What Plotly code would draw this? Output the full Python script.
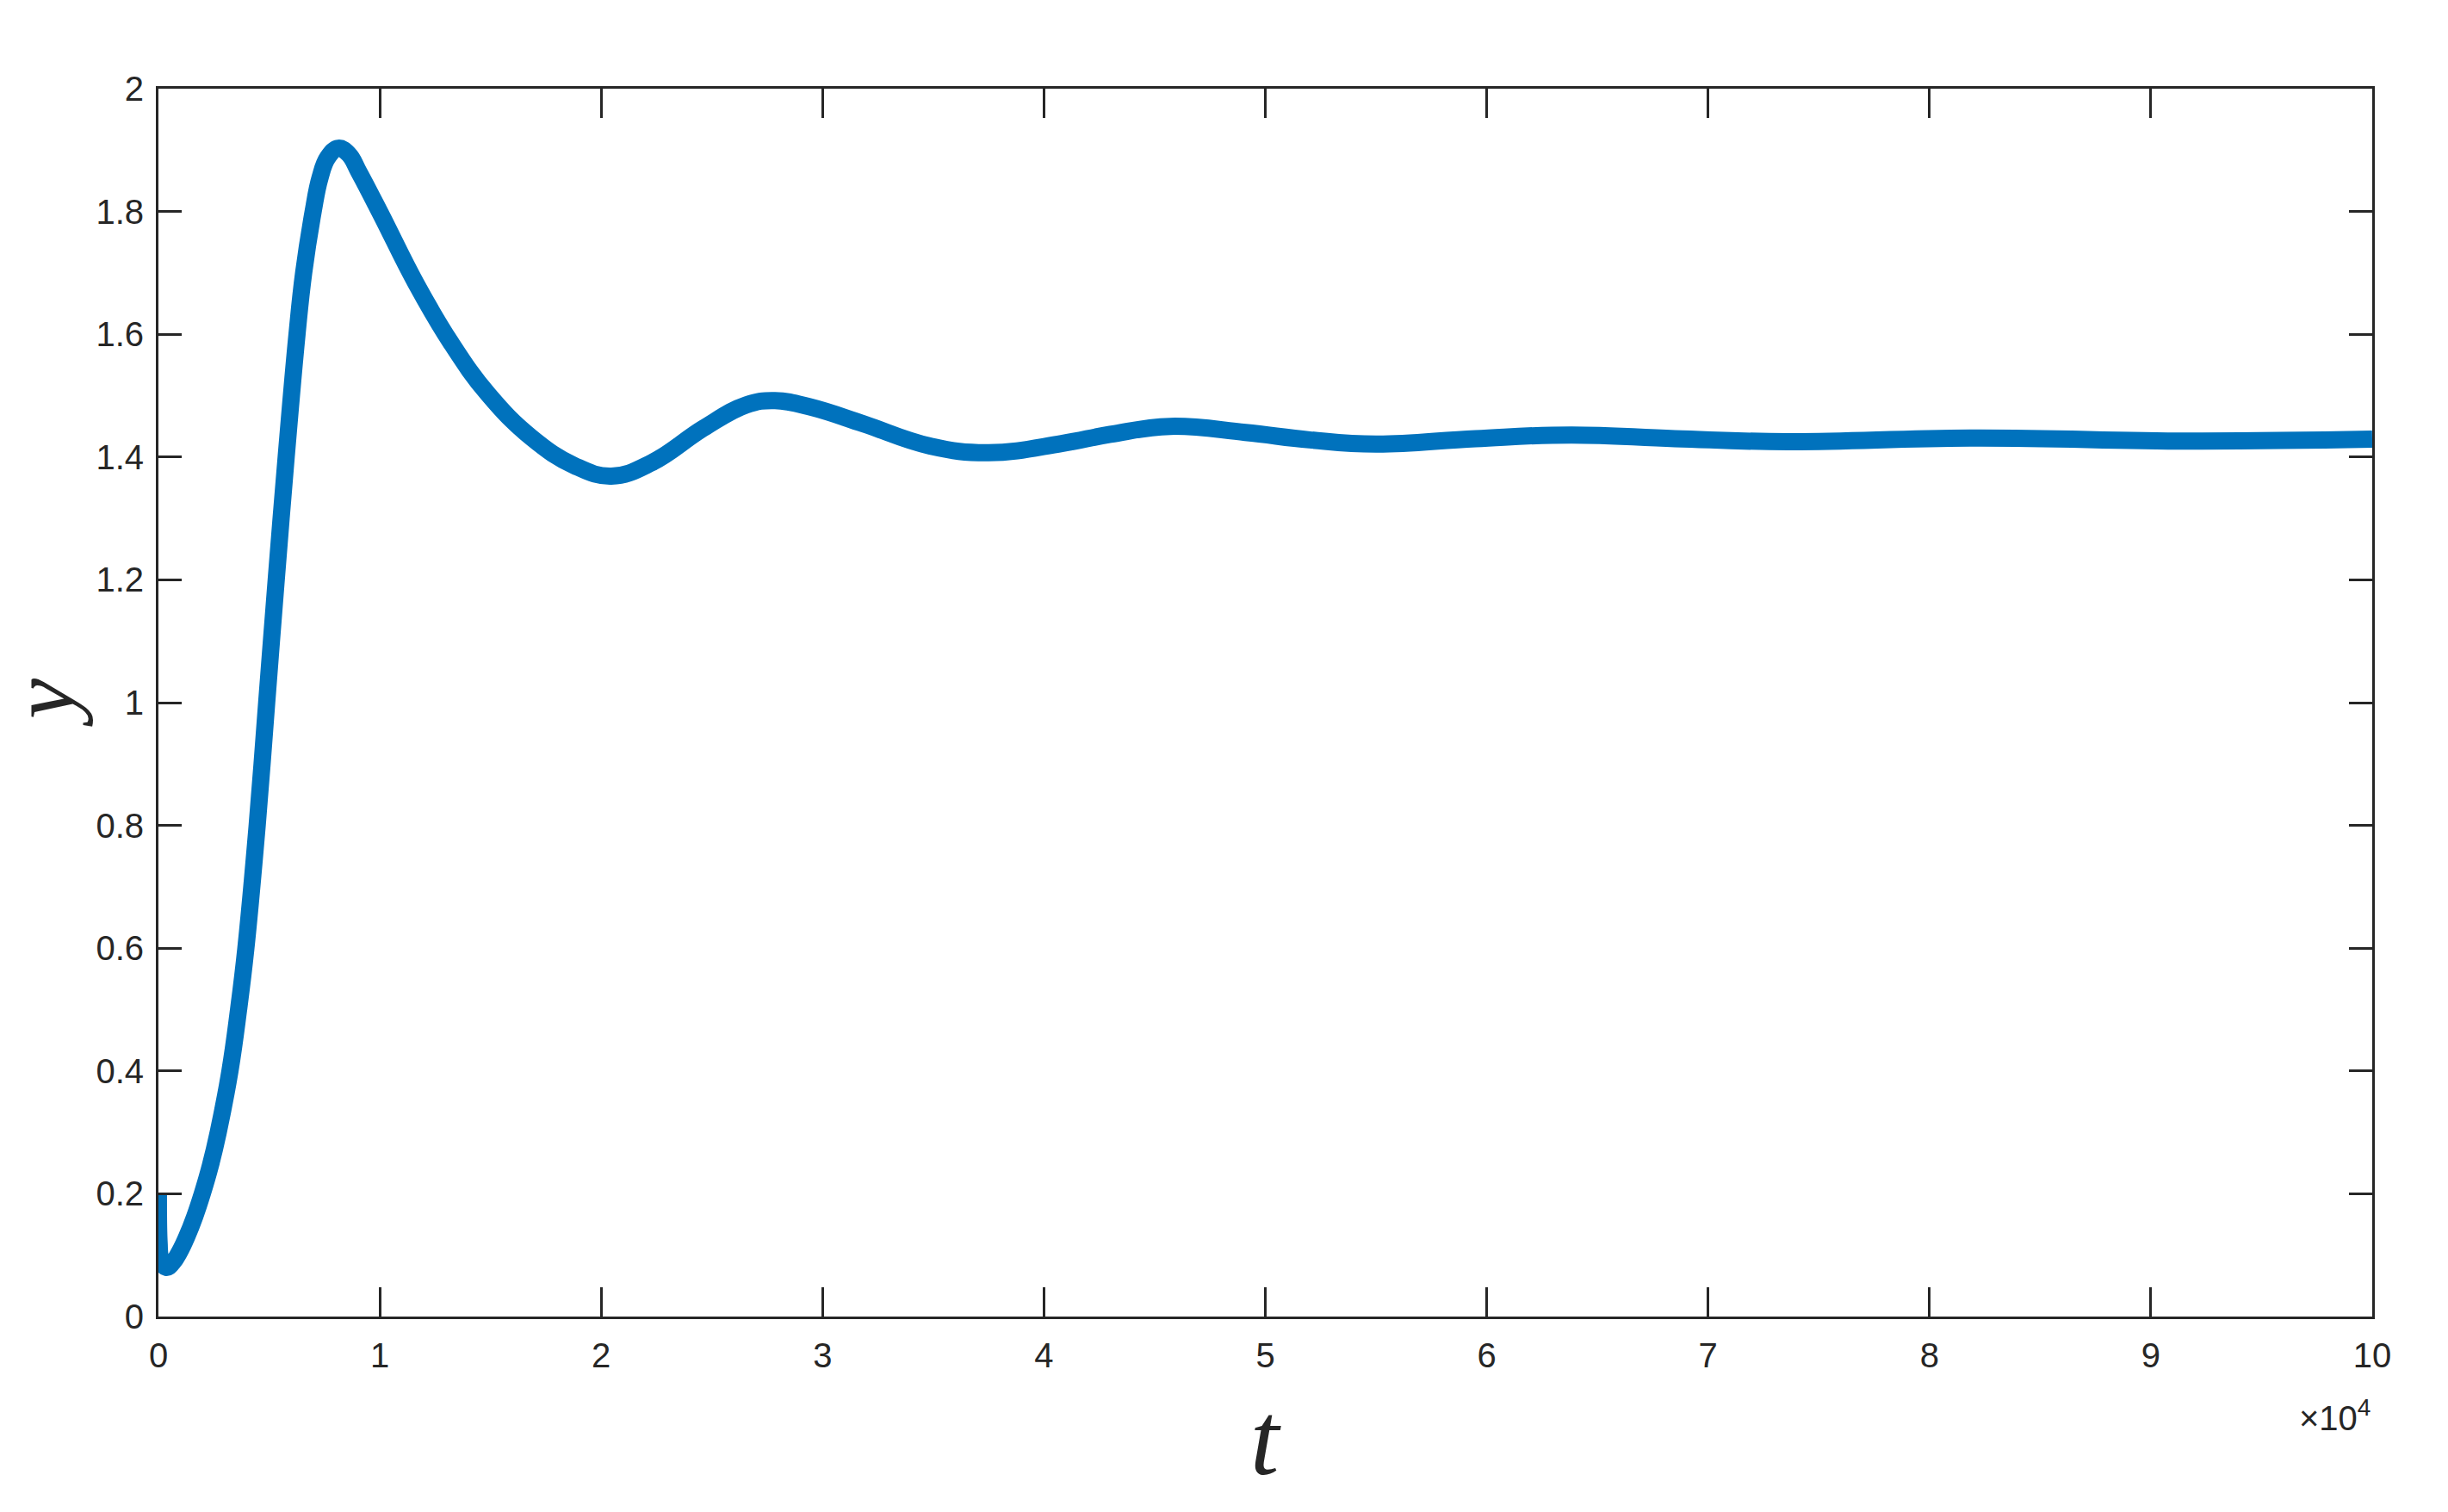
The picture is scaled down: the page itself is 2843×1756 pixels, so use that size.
import plotly.graph_objects as go

# response curve (t in samples, y dimensionless)
t_vals = [0, 30, 100, 350, 650, 950, 1280, 1640, 1980, 2340, 2700, 3230, 3620, 3950,
          4460, 4890, 5320, 5770, 6260, 6560, 6990, 7300, 7650, 8130, 8600, 9060,
          10070, 11630, 13180, 14900, 16840, 18790, 20460, 22290, 24620, 26560, 27850,
          29500, 31850, 34850, 37500, 40800, 43000, 45700, 49100, 52000, 55000, 59500,
          63800, 68500, 73600, 82000, 91800, 100000]
y_vals = [0.2, 0.12, 0.095, 0.08, 0.088, 0.105, 0.13, 0.163, 0.2, 0.245, 0.3, 0.4, 0.5,
          0.6, 0.8, 1.0, 1.2, 1.4, 1.6, 1.7, 1.8, 1.855, 1.888, 1.903, 1.893, 1.864,
          1.794, 1.683, 1.588, 1.502, 1.432, 1.386, 1.369, 1.391, 1.447, 1.485, 1.492,
          1.481, 1.454, 1.418, 1.407, 1.422, 1.437, 1.45, 1.44, 1.428, 1.421, 1.43,
          1.436, 1.43, 1.425, 1.431, 1.426, 1.429]

x_tickvals = [0, 10000, 20000, 30000, 40000, 50000, 60000, 70000, 80000, 90000, 100000]
x_ticktext = ["0", "1", "2", "3", "4", "5", "6", "7", "8", "9", "10"]
y_tickvals = [0, 0.2, 0.4, 0.6, 0.8, 1, 1.2, 1.4, 1.6, 1.8, 2]
y_ticktext = ["0", "0.2", "0.4", "0.6", "0.8", "1", "1.2", "1.4", "1.6", "1.8", "2"]

# page body adds an 8px margin, so the figure is 16px smaller than the window
W, H = 2827, 1740
AX = "#262626"
TICK_FONT = dict(family="Liberation Sans Narrow, Arial Narrow, Liberation Sans, Arial", size=40, color=AX)
SERIF = "Liberation Serif, Times New Roman, serif"

fig = go.Figure()
fig.add_trace(go.Scatter(
    x=t_vals, y=y_vals, mode="lines",
    line=dict(color="#0072BD", width=20, shape="spline", smoothing=1.2),
    showlegend=False,
))

fig.update_xaxes(
    range=[0, 100000], tickvals=x_tickvals, ticktext=x_ticktext,
    showline=True, linecolor=AX, linewidth=3, mirror="ticks",
    ticks="inside", ticklen=34, tickwidth=3, tickcolor=AX,
    showgrid=False, zeroline=False, tickfont=TICK_FONT, ticklabelstandoff=8,
)
fig.update_yaxes(
    range=[0, 2], tickvals=y_tickvals, ticktext=y_ticktext,
    showline=True, linecolor=AX, linewidth=3, mirror="ticks",
    ticks="inside", ticklen=27, tickwidth=3, tickcolor=AX,
    showgrid=False, zeroline=False, tickfont=TICK_FONT, ticklabelstandoff=6,
)

fig.add_annotation(text="<i>t</i>", xref="paper", yref="paper", x=0.5, y=-0.0996,
                   xanchor="center", yanchor="middle", showarrow=False,
                   font=dict(family=SERIF, size=120, color=AX))
fig.add_annotation(text="<i>y</i>", xref="paper", yref="paper", x=-0.0525, y=0.5,
                   xanchor="center", yanchor="middle", textangle=-90, showarrow=False,
                   font=dict(family=SERIF, size=106, color=AX))
fig.add_annotation(text="×10<sup>4</sup>", xref="paper", yref="paper", x=1.0, y=-0.062,
                   xanchor="right", yanchor="top", showarrow=False, font=TICK_FONT)

fig.update_layout(
    width=W, height=H,
    margin=dict(l=176, r=80, t=95, b=219),
    paper_bgcolor="white", plot_bgcolor="white",
)

fig.write_html("out.html")
